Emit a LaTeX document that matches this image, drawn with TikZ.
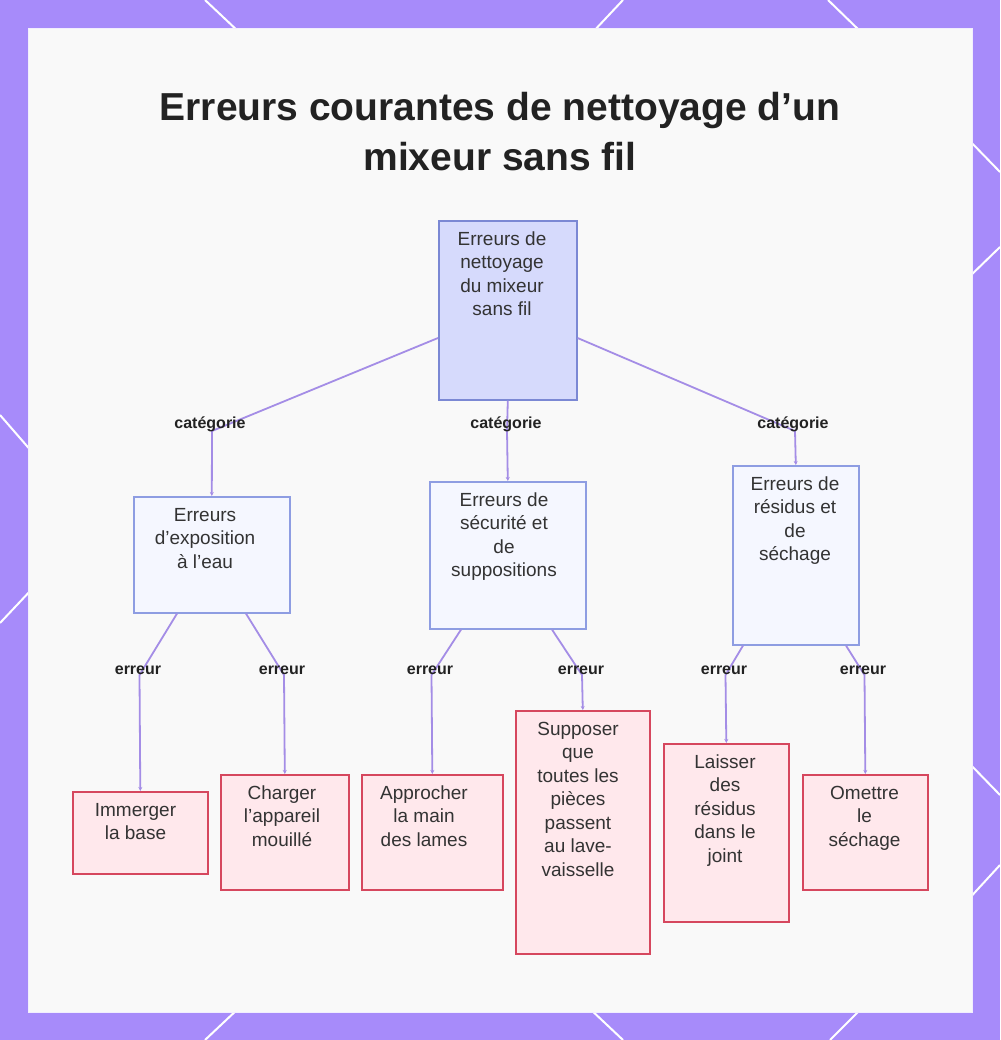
\documentclass[tikz,border=0pt]{standalone}
\usepackage{fontspec}
\setmainfont{Liberation Sans}
\usetikzlibrary{arrows.meta,calc}
\definecolor{framec}{HTML}{A78BFA}
\definecolor{panelc}{HTML}{F9F9F9}
\definecolor{edgec}{HTML}{A48DE6}
\definecolor{rootfill}{HTML}{D6DAFC}
\definecolor{rootdraw}{HTML}{7B88D4}
\definecolor{catfill}{HTML}{F5F7FF}
\definecolor{catdraw}{HTML}{8E9DE2}
\definecolor{leaffill}{HTML}{FFE8EC}
\definecolor{leafdraw}{HTML}{D6475E}
\definecolor{ink}{HTML}{333333}
\definecolor{titleink}{HTML}{222222}
\tikzset{
  box/.style={draw, line width=1.6pt, inner sep=0pt, anchor=north west},
  rootbox/.style={box, fill=rootfill, draw=rootdraw},
  catbox/.style={box, fill=catfill, draw=catdraw},
  leafbox/.style={box, fill=leaffill, draw=leafdraw},
  txt/.style={align=center, anchor=north, inner sep=0pt, text=ink, font=\fontsize{19}{23.5}\selectfont},
  lbl/.style={anchor=base, inner sep=0pt, text=titleink, font=\bfseries\fontsize{16}{18}\selectfont},
  conn/.style={draw=edgec, line width=1.8pt, -{Stealth[length=4pt,width=4pt]}},
  deco/.style={draw=white, line width=2pt}
}
\begin{document}
\begin{tikzpicture}[x=1pt,y=-1pt]
\useasboundingbox (0,0) rectangle (1000,1040);
% frame
\fill[framec] (0,0) rectangle (1000,1040);
\draw[deco] (205,0) -- (240,33);
\draw[deco] (623,0) -- (592,33);
\draw[deco] (828,0) -- (862,33);
\draw[deco] (240,1007) -- (205,1040);
\draw[deco] (588,1007) -- (623,1040);
\draw[deco] (863,1007) -- (830,1040);
\draw[deco] (0,415) -- (33,453);
\draw[deco] (33,588) -- (0,623);
\draw[deco] (966,137) -- (1000,172);
\draw[deco] (966,280) -- (1000,247);
\draw[deco] (966,760) -- (1000,795);
\draw[deco] (966,902) -- (1000,865);
\fill[panelc] (28,28) rectangle (972,1012);
\draw[white!85!framec, line width=0.8pt] (28,28) rectangle (972,1012);
% title
\node[align=center, anchor=north, inner sep=0pt, text=titleink, font=\bfseries\fontsize{39}{50}\selectfont] (title) at (500,85) {\strut Erreurs courantes de nettoyage d’un\\mixeur sans fil};
% boxes
\node[rootbox, minimum width=138pt, minimum height=179pt] (root) at (438,220) {};
\node[catbox, minimum width=156pt, minimum height=116pt] (c1) at (133,496) {};
\node[catbox, minimum width=156pt, minimum height=147pt] (c2) at (429,481) {};
\node[catbox, minimum width=126pt, minimum height=179pt] (c3) at (732,465) {};
\node[leafbox, minimum width=135pt, minimum height=82pt] (l1) at (72,791) {};
\node[leafbox, minimum width=128pt, minimum height=115pt] (l2) at (220,774) {};
\node[leafbox, minimum width=141pt, minimum height=115pt] (l3) at (361,774) {};
\node[leafbox, minimum width=134pt, minimum height=243pt] (l4) at (515,710) {};
\node[leafbox, minimum width=125pt, minimum height=178pt] (l5) at (663,743) {};
\node[leafbox, minimum width=125pt, minimum height=115pt] (l6) at (802,774) {};
% texts
\node[txt] (rootT) at (502,228.5) {\strut Erreurs de\\nettoyage\\du mixeur\\sans fil};
\node[txt] (c1T) at (205,504.5) {\strut Erreurs\\d’exposition\\à l’eau};
\node[txt] (c2T) at (504,489.5) {\strut Erreurs de\\sécurité et\\de\\suppositions};
\node[txt] (c3T) at (795,473.5) {\strut Erreurs de\\résidus et\\de\\séchage};
\node[txt] (l1T) at (135.5,799.5) {\strut Immerger\\la base};
\node[txt] (l2T) at (282,782.5) {\strut Charger\\l’appareil\\mouillé};
\node[txt] (l3T) at (424,782.5) {\strut Approcher\\la main\\des lames};
\node[txt] (l4T) at (578,718.5) {\strut Supposer\\que\\toutes les\\pièces\\passent\\au lave-\\vaisselle};
\node[txt] (l5T) at (725,751.5) {\strut Laisser\\des\\résidus\\dans le\\joint};
\node[txt] (l6T) at (864.5,782.5) {\strut Omettre\\le\\séchage};
% bend points
\coordinate (k1) at (212,431);
\coordinate (k2) at (507,431);
\coordinate (k3) at (795,431);
\coordinate (e1) at (139.5,675);
\coordinate (e2) at (284,675);
\coordinate (e3) at (431.5,675);
\coordinate (e4) at (582,675);
\coordinate (e5) at (725.5,675);
\coordinate (e6) at (864.5,675);
% connectors
\draw[conn] ($(root.north west)+(0,118)$) -- (k1) -- (c1.north);
\draw[conn] (root.south) -- (k2) -- (c2.north);
\draw[conn] ($(root.north east)+(0,118)$) -- (k3) -- (c3.north);
\draw[conn] ($(c1.south west)+(44,0)$) -- (e1) -- (l1.north);
\draw[conn] ($(c1.south west)+(113,0)$) -- (e2) -- (l2.north);
\draw[conn] ($(c2.south west)+(32,0)$) -- (e3) -- (l3.north);
\draw[conn] ($(c2.south west)+(123,0)$) -- (e4) -- (l4.north);
\draw[conn] ($(c3.south west)+(11,0)$) -- (e5) -- (l5.north);
\draw[conn] ($(c3.south west)+(114,0)$) -- (e6) -- (l6.north);
% labels
\node[lbl] (g1) at (210,428) {catégorie};
\node[lbl] (g2) at (506,428) {catégorie};
\node[lbl] (g3) at (793,428) {catégorie};
\node[lbl] (r1) at (138,674) {erreur};
\node[lbl] (r2) at (282,674) {erreur};
\node[lbl] (r3) at (430,674) {erreur};
\node[lbl] (r4) at (581,674) {erreur};
\node[lbl] (r5) at (724,674) {erreur};
\node[lbl] (r6) at (863,674) {erreur};
\end{tikzpicture}
\end{document}
